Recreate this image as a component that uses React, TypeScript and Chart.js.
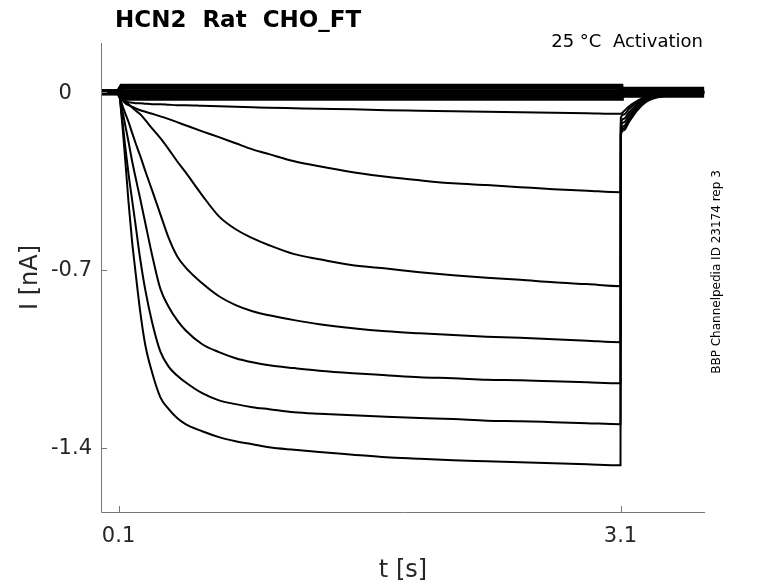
import React, { useEffect, useRef } from "react";
import { Chart, registerables } from "chart.js";

Chart.register(...registerables);

// sample times (s), shared by every sweep; 3.1 -> 3.102 is the step back to holding
const timePoints = [
  0, 0.1, 0.12, 0.14, 0.16, 0.18, 0.2, 0.23, 0.26, 0.3, 0.35, 0.4, 0.45, 0.5,
  0.6, 0.7, 0.8, 0.9, 1.0, 1.15, 1.3, 1.5, 1.7, 1.9, 2.1, 2.3, 2.5, 2.7, 2.9,
  3.1, 3.102, 3.12, 3.15, 3.2, 3.25, 3.3, 3.4, 3.5, 3.6,
];

// sweeps that hardly activate (the thick band at 0 nA)
const sweep1 = [
  0, 0, 0.022, 0.022, 0.022, 0.022, 0.022, 0.022, 0.022, 0.022, 0.022, 0.022,
  0.022, 0.022, 0.022, 0.022, 0.022, 0.022, 0.022, 0.022, 0.022, 0.022, 0.022,
  0.022, 0.022, 0.022, 0.022, 0.022, 0.022, 0.022, 0.01, 0.01, 0.01, 0.01, 0.01,
  0.01, 0.01, 0.01, 0.01,
];
const sweep2 = [
  0, 0, 0, 0, 0, 0, 0, 0, 0, 0, 0, 0, 0, 0, 0, 0, 0, 0, 0, 0, 0, 0, 0, 0, 0, 0,
  0, 0, 0, 0, 0, 0, 0, 0, 0, 0, 0, 0, 0,
];
const sweep3 = [
  0, 0, -0.022, -0.022, -0.022, -0.022, -0.022, -0.022, -0.022, -0.022, -0.022,
  -0.022, -0.022, -0.022, -0.022, -0.022, -0.022, -0.022, -0.022, -0.022, -0.022,
  -0.022, -0.022, -0.022, -0.022, -0.022, -0.022, -0.022, -0.022, -0.022, -0.01,
  -0.01, -0.01, -0.01, -0.01, -0.01, -0.01, -0.01, -0.01,
];
const sweep4 = [
  0, 0, -0.02, -0.035, -0.039, -0.041, -0.043, -0.043, -0.045, -0.047, -0.047,
  -0.049, -0.051, -0.051, -0.053, -0.055, -0.057, -0.059, -0.061, -0.063, -0.065,
  -0.067, -0.071, -0.073, -0.075, -0.077, -0.079, -0.081, -0.083, -0.085,
  -0.085, -0.075, -0.056, -0.034, -0.019, -0.011, -0.005, -0.002, 0,
];
const sweep5 = [
  0, 0, -0.028, -0.043, -0.051, -0.057, -0.063, -0.071, -0.077, -0.085, -0.095,
  -0.106, -0.118, -0.13, -0.154, -0.177, -0.201, -0.225, -0.244, -0.272, -0.292,
  -0.315, -0.333, -0.347, -0.359, -0.366, -0.374, -0.382, -0.388, -0.394,
  -0.1, -0.088, -0.066, -0.04, -0.022, -0.013, -0.006, -0.002, 0,
];
const sweep6 = [
  0, 0, -0.02, -0.035, -0.047, -0.059, -0.071, -0.087, -0.11, -0.142, -0.181,
  -0.225, -0.272, -0.315, -0.406, -0.489, -0.54, -0.575, -0.603, -0.638, -0.658,
  -0.682, -0.695, -0.709, -0.721, -0.731, -0.739, -0.749, -0.756, -0.764,
  -0.12, -0.104, -0.08, -0.047, -0.026, -0.016, -0.008, -0.003, 0,
];
const sweep7 = [
  0, 0, -0.047, -0.083, -0.118, -0.158, -0.197, -0.252, -0.311, -0.386, -0.481,
  -0.575, -0.646, -0.69, -0.753, -0.804, -0.839, -0.863, -0.879, -0.898, -0.914,
  -0.93, -0.942, -0.95, -0.957, -0.963, -0.967, -0.973, -0.979, -0.985,
  -0.135, -0.118, -0.092, -0.055, -0.03, -0.018, -0.009, -0.003, 0,
];
const sweep8 = [
  0, 0, -0.063, -0.13, -0.197, -0.268, -0.331, -0.422, -0.516, -0.64, -0.775,
  -0.846, -0.898, -0.938, -0.993, -1.024, -1.048, -1.064, -1.076, -1.087, -1.097,
  -1.107, -1.115, -1.123, -1.127, -1.133, -1.135, -1.139, -1.143, -1.147,
  -0.15, -0.133, -0.104, -0.062, -0.034, -0.02, -0.01, -0.003, 0,
];
const sweep9 = [
  0, 0, -0.095, -0.215, -0.325, -0.42, -0.515, -0.66, -0.78, -0.905, -1.022,
  -1.082, -1.116, -1.143, -1.186, -1.214, -1.229, -1.241, -1.249, -1.261, -1.267,
  -1.273, -1.279, -1.284, -1.288, -1.294, -1.296, -1.3, -1.304, -1.308,
  -0.16, -0.142, -0.112, -0.066, -0.036, -0.022, -0.011, -0.004, 0,
];
const sweep10 = [
  0, 0, -0.11, -0.268, -0.437, -0.583, -0.701, -0.867, -0.997, -1.103, -1.202,
  -1.249, -1.284, -1.308, -1.336, -1.359, -1.375, -1.387, -1.399, -1.409, -1.418,
  -1.428, -1.438, -1.444, -1.45, -1.454, -1.458, -1.462, -1.466, -1.47,
  -0.169, -0.15, -0.118, -0.071, -0.039, -0.024, -0.012, -0.004, 0,
];

const bandSweeps = [sweep1, sweep2, sweep3];
const activeSweeps = [sweep4, sweep5, sweep6, sweep7, sweep8, sweep9, sweep10];

const xTickValues = [0.1, 3.1];
const xTickLabels = ["0.1", "3.1"];
const yTickValues = [-1.4, -0.7, 0];
const yTickLabels = ["-1.4", "-0.7", "0   "];

const FONT = '"DejaVu Sans", sans-serif';
const AXIS_COLOR = "#777777";
const LABEL_COLOR = "#262626";

const toPoints = (values: number[]) =>
  values.map((v, i) => ({ x: timePoints[i], y: v }));

const decorPlugin = {
  id: "decor",
  afterDraw(chart: Chart) {
    const { ctx, chartArea, scales } = chart;
    const xs = scales.x;
    const ys = scales.y;
    ctx.save();

    // spines (left + bottom only)
    ctx.strokeStyle = AXIS_COLOR;
    ctx.lineWidth = 1;
    ctx.beginPath();
    ctx.moveTo(chartArea.left + 0.5, chartArea.top);
    ctx.lineTo(chartArea.left + 0.5, chartArea.bottom + 0.5);
    ctx.lineTo(chartArea.right, chartArea.bottom + 0.5);
    ctx.stroke();

    // inward ticks
    ctx.beginPath();
    yTickValues.forEach(v => {
      const py = Math.round(ys.getPixelForValue(v)) + 0.5;
      ctx.moveTo(chartArea.left, py);
      ctx.lineTo(chartArea.left + 6, py);
    });
    xTickValues.forEach(v => {
      const px = Math.round(xs.getPixelForValue(v)) + 0.5;
      ctx.moveTo(px, chartArea.bottom);
      ctx.lineTo(px, chartArea.bottom - 6);
    });
    ctx.stroke();

    // tick labels
    ctx.fillStyle = LABEL_COLOR;
    ctx.font = `21px ${FONT}`;
    ctx.textAlign = "right";
    ctx.textBaseline = "middle";
    yTickValues.forEach((v, i) => {
      ctx.fillText(yTickLabels[i], chartArea.left - 9, ys.getPixelForValue(v) + 1);
    });
    ctx.textAlign = "center";
    ctx.textBaseline = "alphabetic";
    xTickValues.forEach((v, i) => {
      ctx.fillText(xTickLabels[i], xs.getPixelForValue(v), 542);
    });

    // axis titles
    ctx.font = `24px ${FONT}`;
    ctx.fillText("t [s]", (chartArea.left + chartArea.right) / 2, 577);
    ctx.save();
    ctx.translate(31, (chartArea.top + chartArea.bottom) / 2);
    ctx.rotate(-Math.PI / 2);
    ctx.textBaseline = "middle";
    ctx.fillText("I [nA]", 0, 0);
    ctx.restore();

    // title and annotations
    ctx.fillStyle = "#000000";
    ctx.font = `bold 23px ${FONT}`;
    ctx.textAlign = "left";
    ctx.fillText("HCN2  Rat  CHO_FT", 115, 27);

    ctx.font = `18px ${FONT}`;
    ctx.textAlign = "right";
    ctx.fillText("25 °C  Activation", 703, 47);

    ctx.save();
    ctx.translate(717, 272);
    ctx.rotate(-Math.PI / 2);
    ctx.font = `12px ${FONT}`;
    ctx.textAlign = "center";
    ctx.textBaseline = "middle";
    ctx.fillText("BBP Channelpedia ID 23174 rep 3", 0, 0);
    ctx.restore();

    ctx.restore();
  },
};

export default function App() {
  const canvasRef = useRef<HTMLCanvasElement | null>(null);
  const chartRef = useRef<Chart | null>(null);

  useEffect(() => {
    if (!canvasRef.current) return;
    if (chartRef.current) chartRef.current.destroy();

    const datasets = [
      ...bandSweeps.map(s => ({
        data: toPoints(s),
        borderColor: "#000000",
        borderWidth: 6,
        cubicInterpolationMode: "default" as const,
      })),
      ...activeSweeps.map(s => ({
        data: toPoints(s),
        borderColor: "#000000",
        borderWidth: 2,
        cubicInterpolationMode: "monotone" as const,
      })),
    ].map(d => ({ ...d, pointRadius: 0, tension: 0, fill: false }));

    chartRef.current = new Chart(canvasRef.current, {
      type: "line",
      data: { datasets },
      plugins: [decorPlugin],
      options: {
        responsive: false,
        animation: false,
        layout: { padding: { left: 0, top: 43, right: 73, bottom: 0 } },
        plugins: {
          legend: { display: false },
          tooltip: { enabled: false },
        },
        scales: {
          x: {
            type: "linear",
            min: -0.005,
            max: 3.605,
            grid: { display: false, drawTicks: false },
            border: { display: false },
            ticks: { display: false },
            afterFit: (scale: any) => {
              scale.height = 71;
            },
          },
          y: {
            type: "linear",
            min: -1.654,
            max: 0.194,
            grid: { display: false, drawTicks: false },
            border: { display: false },
            ticks: { display: false },
            afterFit: (scale: any) => {
              scale.width = 101;
            },
          },
        },
      },
    });

    return () => {
      if (chartRef.current) {
        chartRef.current.destroy();
        chartRef.current = null;
      }
    };
  }, []);

  return (
    <div style={{ position: "fixed", left: 0, top: 0, width: 778, height: 583, background: "#fff" }}>
      <canvas ref={canvasRef} width={778} height={583} style={{ display: "block" }} />
    </div>
  );
}
